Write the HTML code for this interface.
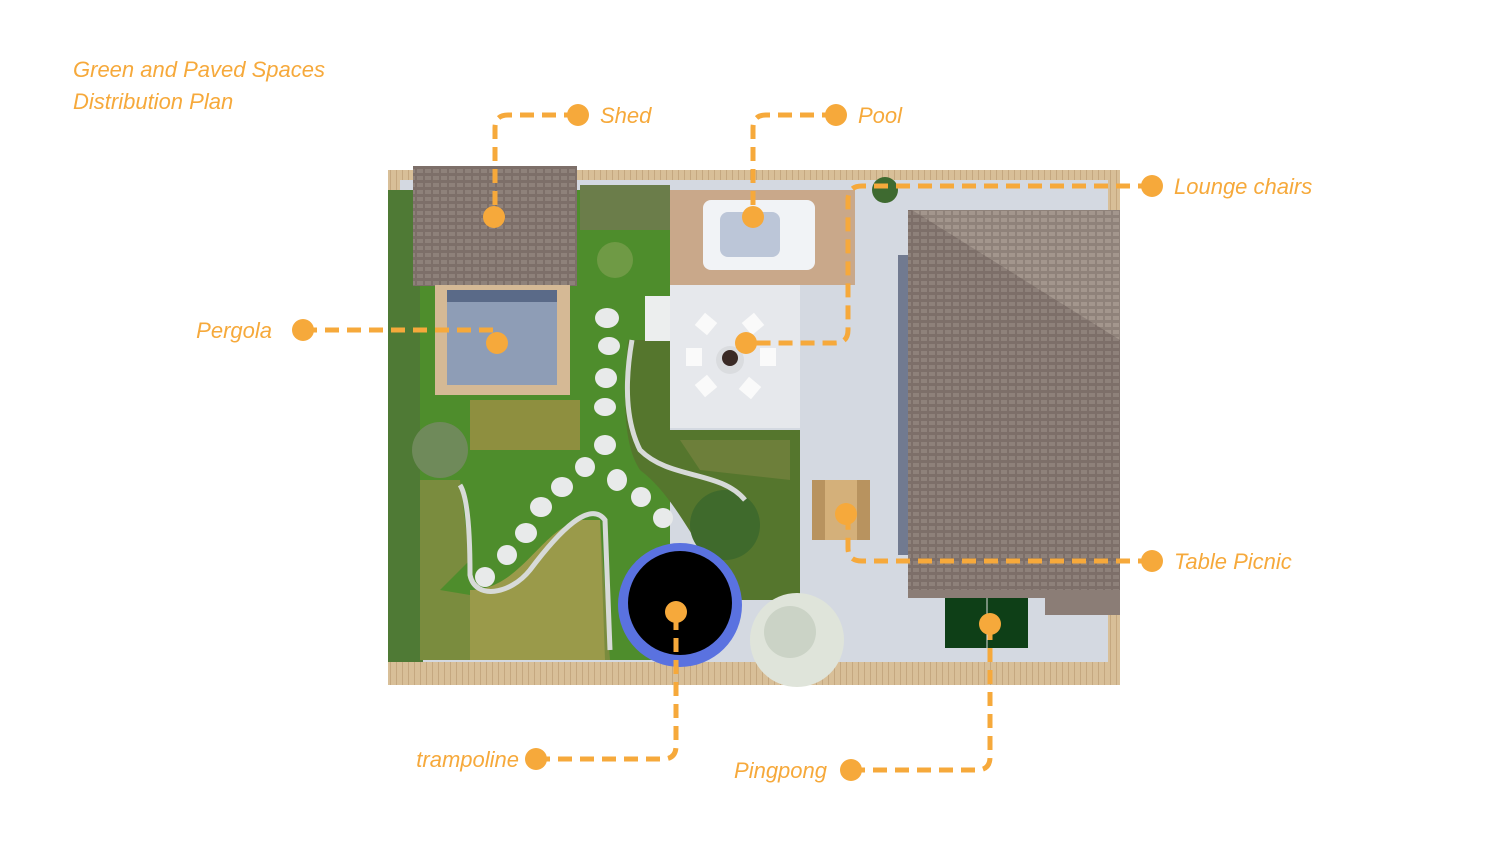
<!DOCTYPE html>
<html><head><meta charset="utf-8"><style>
html,body{margin:0;padding:0;background:#fff;}
svg{display:block;}
text{font-family:"Liberation Sans",sans-serif;font-style:italic;fill:#f6a93b;font-size:22px;}
</style></head><body>
<svg width="1500" height="844" viewBox="0 0 1500 844" xmlns="http://www.w3.org/2000/svg">
<defs>
<pattern id="tile" width="8" height="7" patternUnits="userSpaceOnUse"><rect width="8" height="7" fill="#7d6f69"/><rect x="1" y="1" width="6" height="4" fill="#8e817a"/></pattern>
<pattern id="tile2" width="8" height="7" patternUnits="userSpaceOnUse"><rect width="8" height="7" fill="#8f827a"/><rect x="1" y="1" width="6" height="4" fill="#a3968d"/></pattern>
<pattern id="wood" width="6" height="10" patternUnits="userSpaceOnUse"><rect width="6" height="10" fill="#d8bf98"/><rect width="1" height="10" fill="#c5a880"/></pattern>
</defs>
<text x="73" y="77">Green and Paved Spaces</text>
<text x="73" y="109">Distribution Plan</text>

<rect x="388" y="170" width="732" height="515" fill="url(#wood)"/>
<rect x="400" y="180" width="708" height="485" fill="#d4d9e1"/>
<rect x="388" y="190" width="35" height="480" fill="#4f7a35"/>
<rect x="420" y="190" width="250" height="470" fill="#4e8d2c"/>
<rect x="580" y="185" width="90" height="45" fill="#6b7d4a"/>
<rect x="413" y="166" width="164" height="120" fill="url(#tile)"/>
<rect x="435" y="285" width="135" height="110" fill="#d5b995"/>
<rect x="447" y="290" width="110" height="95" fill="#8e9db6"/>
<rect x="447" y="290" width="110" height="12" fill="#5a6a88"/>
<rect x="470" y="400" width="110" height="50" fill="#8e8f3f"/>
<path d="M420 480 L460 480 L470 560 L440 590 L500 600 L600 520 L610 660 L420 660 Z" fill="#7a8c3e"/>
<path d="M470 590 C520 590 540 530 580 520 L600 520 L605 660 L470 660 Z" fill="#9a9a4a"/>
<circle cx="440" cy="450" r="28" fill="#6f8a5a"/>
<path d="M628 340 L670 340 L670 430 L800 430 L800 600 L740 600 C700 560 680 500 640 470 C620 440 625 380 628 340 Z" fill="#55762d"/>
<path d="M680 440 L790 440 L790 480 L700 470 Z" fill="#6d7f3a"/>
<circle cx="725" cy="525" r="35" fill="#3f6a2c"/>
<path d="M460 485 C470 500 470 560 470 575 C475 600 510 595 530 570 C560 530 590 500 605 520 L610 650" fill="none" stroke="#d7dad8" stroke-width="5"/>
<path d="M632 340 C625 380 625 420 640 450 C670 480 720 470 745 500" fill="none" stroke="#d7dad8" stroke-width="5"/>
<g fill="#e8eaea">
<ellipse cx="607" cy="318" rx="12" ry="10"/><ellipse cx="609" cy="346" rx="11" ry="9"/>
<ellipse cx="606" cy="378" rx="11" ry="10"/><ellipse cx="605" cy="407" rx="11" ry="9"/>
<ellipse cx="605" cy="445" rx="11" ry="10"/><ellipse cx="585" cy="467" rx="10" ry="10"/>
<ellipse cx="617" cy="480" rx="10" ry="11"/><ellipse cx="562" cy="487" rx="11" ry="10"/>
<ellipse cx="641" cy="497" rx="10" ry="10"/><ellipse cx="541" cy="507" rx="11" ry="10"/>
<ellipse cx="663" cy="518" rx="10" ry="10"/><ellipse cx="526" cy="533" rx="11" ry="10"/>
<ellipse cx="507" cy="555" rx="10" ry="10"/><ellipse cx="485" cy="577" rx="10" ry="10"/>
</g>
<circle cx="615" cy="260" r="18" fill="#6f9a45"/>
<rect x="670" y="190" width="185" height="95" fill="#c9a88a"/>
<rect x="703" y="200" width="112" height="70" rx="8" fill="#f1f3f6"/>
<rect x="720" y="212" width="60" height="45" rx="8" fill="#bcc6d8"/>
<rect x="670" y="285" width="130" height="143" fill="#e6e8ec"/>
<rect x="645" y="296" width="25" height="45" fill="#eceeee"/>
<g fill="#fafafa"><rect x="698" y="316" width="16" height="16" transform="rotate(40 706 324)"/><rect x="745" y="316" width="16" height="16" transform="rotate(-40 753 324)"/><rect x="686" y="348" width="16" height="18"/><rect x="760" y="348" width="16" height="18"/><rect x="698" y="378" width="16" height="16" transform="rotate(-40 706 386)"/><rect x="742" y="380" width="16" height="16" transform="rotate(40 750 388)"/></g>
<circle cx="730" cy="360" r="14" fill="#dadcdf"/><circle cx="730" cy="358" r="8" fill="#3a2a25"/>
<rect x="908" y="210" width="212" height="380" fill="url(#tile)"/>
<polygon points="912,210 1120,210 1120,340" fill="url(#tile2)"/>
<polygon points="908,590 1120,590 1120,615 1045,615 1045,598 908,598" fill="#8b7d76"/>
<rect x="898" y="255" width="10" height="300" fill="#2e3a5a" opacity="0.6"/>
<rect x="812" y="480" width="58" height="60" fill="#b8935f"/>
<rect x="825" y="480" width="32" height="60" fill="#d4b07a"/>
<rect x="945" y="598" width="83" height="50" fill="#0e3f17"/>
<line x1="987" y1="598" x2="987" y2="648" stroke="#ddd" stroke-width="1"/>
<rect x="388" y="662" width="732" height="23" fill="url(#wood)"/>
<circle cx="797" cy="640" r="47" fill="#dfe4da"/>
<circle cx="790" cy="632" r="26" fill="#cbd3c6"/>
<circle cx="885" cy="190" r="13" fill="#3e6a30"/>
<circle cx="680" cy="605" r="62" fill="#5a72e0"/>
<circle cx="680" cy="603" r="52" fill="#000"/>

<g fill="none" stroke="#f6a93b" stroke-width="5" stroke-dasharray="14 8">
<path d="M578 115 H508 Q495 115 495 128 V217"/>
<path d="M836 115 H766 Q753 115 753 128 V217"/>
<path d="M1152 186 H862 Q848 186 848 200 V330 Q848 343 835 343 H746"/>
<path d="M303 330 H497 V343"/>
<path d="M1152 561 H862 Q848 561 848 548 V514"/>
<path d="M536 759 H663 Q676 759 676 746 V612"/>
<path d="M851 770 H977 Q990 770 990 757 V624"/>
</g>
<g fill="#f6a93b">
<circle cx="578" cy="115" r="11"/><circle cx="494" cy="217" r="11"/>
<circle cx="836" cy="115" r="11"/><circle cx="753" cy="217" r="11"/>
<circle cx="1152" cy="186" r="11"/><circle cx="746" cy="343" r="11"/>
<circle cx="303" cy="330" r="11"/><circle cx="497" cy="343" r="11"/>
<circle cx="1152" cy="561" r="11"/><circle cx="846" cy="514" r="11"/>
<circle cx="536" cy="759" r="11"/><circle cx="676" cy="612" r="11"/>
<circle cx="851" cy="770" r="11"/><circle cx="990" cy="624" r="11"/>
</g>
<text x="600" y="123">Shed</text>
<text x="858" y="123">Pool</text>
<text x="1174" y="194">Lounge chairs</text>
<text x="272" y="338" text-anchor="end">Pergola</text>
<text x="1174" y="569">Table Picnic</text>
<text x="519" y="767" text-anchor="end">trampoline</text>
<text x="827" y="778" text-anchor="end">Pingpong</text>
</svg>
</body></html>
